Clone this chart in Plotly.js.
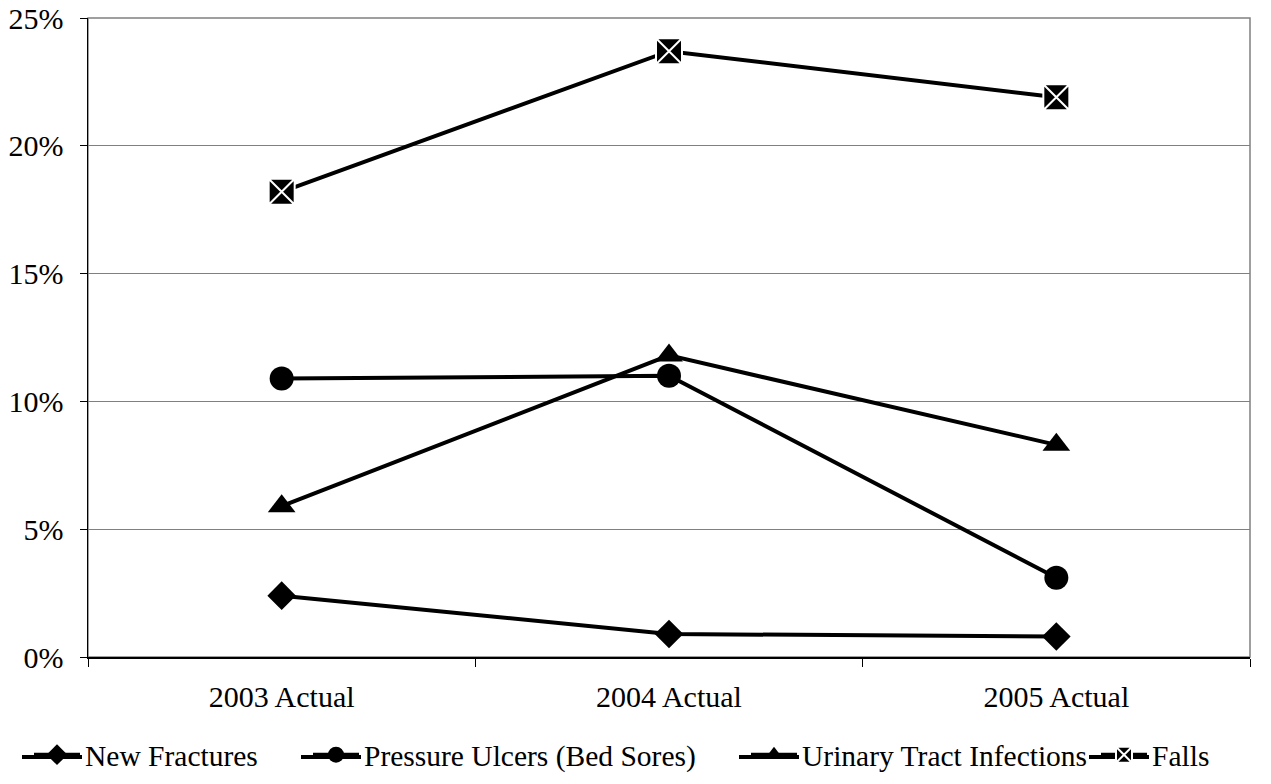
<!DOCTYPE html>
<html>
<head>
<meta charset="utf-8">
<script src="https://cdn.plot.ly/plotly-3.0.1.min.js"></script>
<style>html,body{margin:0;padding:0;background:#fff;}#chart{width:1271px;height:784px;}</style>
</head>
<body>
<div id="chart"></div>
<script>
var categories = ["2003 Actual", "2004 Actual", "2005 Actual"];
var newFractures = [2.4, 0.9, 0.8];
var pressureUlcers = [10.9, 11.0, 3.1];
var urinaryTract = [5.9, 11.8, 8.3];
var falls = [18.2, 23.7, 21.9];
var seriesNames = ["New Fractures", "Pressure Ulcers (Bed Sores)", "Urinary Tract Infections", "Falls"];
var yTickVals = [0, 5, 10, 15, 20, 25];
var yTickText = yTickVals.map(function (v) { return v + "%"; });

var W = 1271, H = 784, ML = 88, MR = 21, MT = 18, MB = 127;
var PW = W - ML - MR, PH = H - MT - MB;
var legendTextX = [86, 365, 803, 1153];
var legendY = 757;

var font = {family: "Liberation Serif, Times New Roman, serif", size: 30, color: "#000"};
var legendFont = {family: "Liberation Serif, Times New Roman, serif", size: 29.5, color: "#000"};

function tr(name, y, symbol, size, legendId, lineColor, lineW) {
  return {
    x: categories, y: y, name: name, type: "scatter", mode: "lines+markers",
    legend: legendId,
    line: {color: "#000", width: 4},
    marker: {symbol: symbol, size: size, color: "#000", line: {color: lineColor || "#000", width: lineW || 0}},
    cliponaxis: false
  };
}

var data = [
  tr(seriesNames[0], newFractures, "diamond", 22, "legend"),
  tr(seriesNames[1], pressureUlcers, "circle", 24, "legend2"),
  tr(seriesNames[2], urinaryTract, "triangle-up", 24, "legend3"),
  tr(seriesNames[3], falls, "square-x", 26, "legend4", "#fff", 2)
];

function leg(textX) {
  return {orientation: "h", xref: "container", yref: "container",
          x: (textX - 57) / W, xanchor: "left", y: (H - legendY + 2) / H, yanchor: "middle",
          font: legendFont, itemwidth: 46, bgcolor: "rgba(0,0,0,0)", borderwidth: 0};
}

var shapes = [{type: "rect", xref: "paper", yref: "paper", x0: 0, x1: 1, y0: 0, y1: 1,
               line: {color: "#808080", width: 1.5}, layer: "below"}];
legendTextX.forEach(function (tx) {
  shapes.push({type: "line", xref: "paper", yref: "paper",
               x0: (tx - 64 - ML) / PW, x1: (tx - 4 - ML) / PW,
               y0: (MT + PH - legendY) / PH, y1: (MT + PH - legendY) / PH,
               line: {color: "#000", width: 4}, layer: "above"});
});

var layout = {
  width: W, height: H,
  margin: {l: ML, r: MR, t: MT, b: MB},
  paper_bgcolor: "#fff", plot_bgcolor: "#fff",
  font: font,
  showlegend: true,
  legend: leg(legendTextX[0]),
  legend2: leg(legendTextX[1]),
  legend3: leg(legendTextX[2]),
  legend4: leg(legendTextX[3]),
  xaxis: {
    type: "category", range: [-0.5, 2.5],
    showline: true, linecolor: "#000", linewidth: 1.5,
    ticks: "outside", tickson: "boundaries", ticklen: 8, tickcolor: "#000", tickwidth: 1,
    showgrid: false, zeroline: false, tickfont: font, ticklabelstandoff: 12
  },
  yaxis: {
    range: [0, 25], tickmode: "array", tickvals: yTickVals, ticktext: yTickText,
    showline: true, linecolor: "#000", linewidth: 1.5,
    ticks: "outside", ticklen: 7, tickcolor: "#000", tickwidth: 1,
    showgrid: true, gridcolor: "#808080", gridwidth: 1, zeroline: false,
    tickfont: font, ticklabelstandoff: 10
  },
  shapes: shapes
};

Plotly.newPlot("chart", data, layout, {displayModeBar: false, staticPlot: true});
</script>
</body>
</html>
